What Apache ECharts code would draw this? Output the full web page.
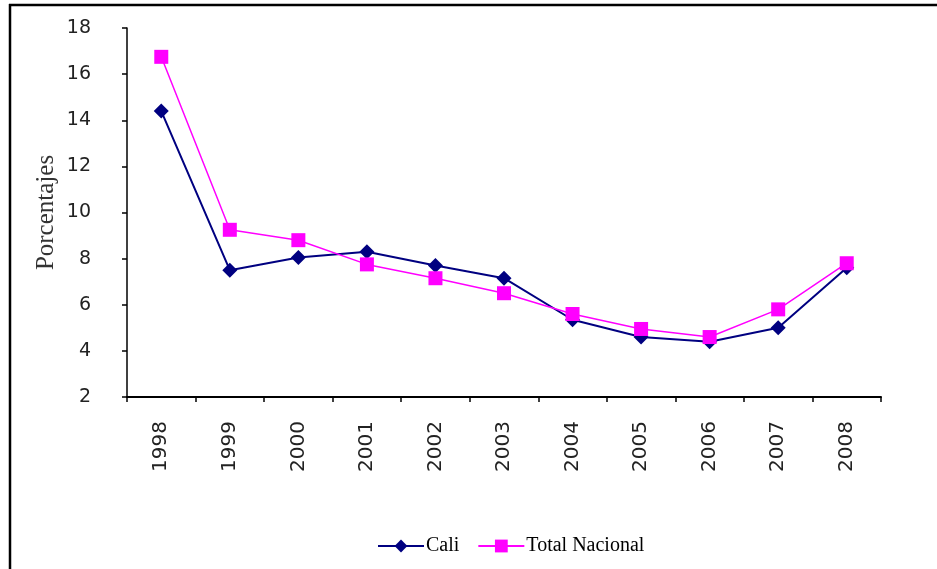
<!DOCTYPE html>
<html>
<head>
<meta charset="utf-8">
<script src="https://cdn.jsdelivr.net/npm/echarts@6/dist/echarts.min.js"></script>
<style>
html,body{margin:0;padding:0;background:#fff;}
#chart{width:937px;height:569px;}
</style>
</head>
<body>
<div id="chart"></div>
<script>
var years = ['1998','1999','2000','2001','2002','2003','2004','2005','2006','2007','2008'];
var cali = [14.4, 7.5, 8.05, 8.3, 7.7, 7.15, 5.35, 4.6, 4.4, 5.0, 7.6];
var totalNacional = [16.75, 9.25, 8.8, 7.75, 7.15, 6.5, 5.6, 4.95, 4.6, 5.8, 7.8];
var yTicks = {min: 2, max: 18, interval: 2};
var seriesNames = ['Cali', 'Total Nacional'];

var chart = echarts.init(document.getElementById('chart'));
chart.setOption({
  animation: false,
  backgroundColor: '#fff',
  graphic: [
    {type: 'line', shape: {x1: 9, y1: 5, x2: 937, y2: 5}, style: {stroke: '#000', lineWidth: 2.5}},
    {type: 'line', shape: {x1: 10, y1: 4, x2: 10, y2: 569}, style: {stroke: '#000', lineWidth: 2.5}}
  ],
  grid: {left: 127, top: 28, right: 56, bottom: 172},
  legend: {
    data: seriesNames,
    left: 372,
    top: 531,
    itemWidth: 46,
    itemHeight: 16,
    itemGap: 18,
    textStyle: {fontFamily: 'Liberation Serif', fontSize: 20, color: '#000', padding: [0,0,0,-3]}
  },
  xAxis: {
    type: 'category',
    data: years,
    boundaryGap: true,
    axisLine: {lineStyle: {color: '#000', width: 2}},
    axisTick: {show: true, length: 5, lineStyle: {color: '#000', width: 1.5}},
    axisLabel: {rotate: 90, margin: 24, fontFamily: 'DejaVu Sans', fontSize: 20, color: '#222'}
  },
  yAxis: {
    type: 'value',
    min: yTicks.min,
    max: yTicks.max,
    interval: yTicks.interval,
    name: 'Porcentajes',
    nameLocation: 'middle',
    nameGap: 68,
    nameMoveOverlap: false,
    nameRotate: 90,
    nameTextStyle: {fontFamily: 'Liberation Serif', fontSize: 25, color: '#333'},
    splitLine: {show: false},
    axisLine: {show: true, lineStyle: {color: '#000', width: 1.5}},
    axisTick: {show: true, length: 5, lineStyle: {color: '#000', width: 1.5}},
    axisLabel: {margin: 36, fontFamily: 'DejaVu Sans', fontSize: 19, color: '#222'}
  },
  series: [
    {
      name: seriesNames[0],
      type: 'line',
      data: cali,
      symbol: 'diamond',
      symbolSize: 15,
      itemStyle: {color: '#000080'},
      lineStyle: {color: '#000080', width: 2},
      z: 2
    },
    {
      name: seriesNames[1],
      type: 'line',
      data: totalNacional,
      symbol: 'rect',
      symbolSize: 14,
      itemStyle: {color: '#FF00FF'},
      lineStyle: {color: '#FF00FF', width: 1.5},
      z: 3
    }
  ]
});
</script>
</body>
</html>
